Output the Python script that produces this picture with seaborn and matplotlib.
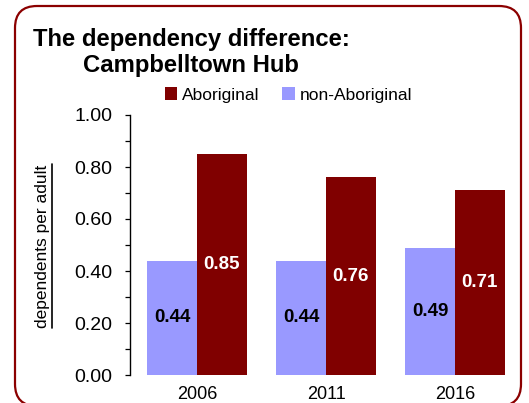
import matplotlib
matplotlib.use("Agg")
import matplotlib.pyplot as plt
import seaborn as sns
import pandas as pd
from matplotlib.patches import FancyBboxPatch, Patch
from matplotlib.transforms import IdentityTransform
from matplotlib.ticker import MultipleLocator, FormatStrFormatter
from matplotlib.lines import Line2D

years = ["2006", "2011", "2016"]
aboriginal = [0.85, 0.76, 0.71]
non_aboriginal = [0.44, 0.44, 0.49]
groups = ["non-Aboriginal", "Aboriginal"]
colors = {"Aboriginal": "#800000", "non-Aboriginal": "#9999FF"}

df = pd.DataFrame({
    "year": years * 2,
    "group": ["non-Aboriginal"] * 3 + ["Aboriginal"] * 3,
    "value": non_aboriginal + aboriginal,
})

sns.set_style("white")
plt.rcParams["font.family"] = ["Liberation Sans", "DejaVu Sans"]
plt.rcParams.update({"text.color": "black", "axes.labelcolor": "black",
                     "xtick.color": "black", "ytick.color": "black"})

W, H = 529, 403
fig = plt.figure(figsize=(W / 100, H / 100), dpi=100)
ax = fig.add_axes([130 / W, (H - 375) / H, 392 / W, 260 / H])

sns.barplot(data=df, x="year", y="value", hue="group", hue_order=groups,
            palette=colors, width=0.77, ax=ax, legend=False,
            saturation=1, edgecolor="none", linewidth=0)

ax.set_xlim(-0.52, 2.52)
ax.set_ylim(0, 1.0)
ax.yaxis.set_major_locator(MultipleLocator(0.2))
ax.yaxis.set_minor_locator(MultipleLocator(0.1))
ax.yaxis.set_major_formatter(FormatStrFormatter("%.2f"))
for s in ["top", "right", "bottom"]:
    ax.spines[s].set_visible(False)
ax.spines["left"].set_color("black")
ax.spines["left"].set_linewidth(1.0)
ax.tick_params(axis="y", which="both", direction="out", left=True, length=3.5,
               width=0.9, color="black", labelcolor="black", labelsize=14, pad=9)
ax.tick_params(axis="x", bottom=False, labelsize=13, pad=4.5, labelcolor="black")
ax.set_xlabel("")
ax.set_ylabel("")

for cont, g in zip(ax.containers, groups):
    ax.bar_label(cont, fmt="%.2f", label_type="center", fontsize=13.5,
                 fontweight="bold",
                 color="white" if g == "Aboriginal" else "black")

# y label with underline
ylab = fig.text(43 / W, 1 - 246 / H, "dependents per adult", rotation=90,
                ha="center", va="center", fontsize=12.5, color="black")
fig.canvas.draw()
bb = ylab.get_window_extent(fig.canvas.get_renderer())
fig.add_artist(Line2D([bb.x1 + 1.0, bb.x1 + 1.0], [bb.y0, bb.y1],
                      transform=IdentityTransform(), color="black", lw=1.2))

# title
fig.text(33 / W, 1 - 46 / H, "The dependency difference:", fontsize=17.2,
         fontweight="bold", ha="left", va="baseline", color="black")
fig.text(83 / W, 1 - 72 / H, "Campbelltown Hub", fontsize=17.2,
         fontweight="bold", ha="left", va="baseline", color="black")

# legend
handles = [Patch(facecolor=colors["Aboriginal"], edgecolor="none"),
           Patch(facecolor=colors["non-Aboriginal"], edgecolor="none")]
fig.legend(handles, ["Aboriginal", "non-Aboriginal"], ncol=2, frameon=False,
           loc="center left", bbox_to_anchor=(165 / W, 1 - 95 / H),
           fontsize=12.5, handlelength=0.7, handleheight=0.7,
           handletextpad=0.3, columnspacing=1.3, borderpad=0, borderaxespad=0,
           labelcolor="black")

# rounded border
fig.patches.append(FancyBboxPatch((15, H - 406), 506, 400,
                                  boxstyle="round,pad=0,rounding_size=22",
                                  transform=IdentityTransform(), fill=False,
                                  edgecolor="#8B0000", lw=1.6, zorder=10))

fig.savefig("out.png", dpi=100)
